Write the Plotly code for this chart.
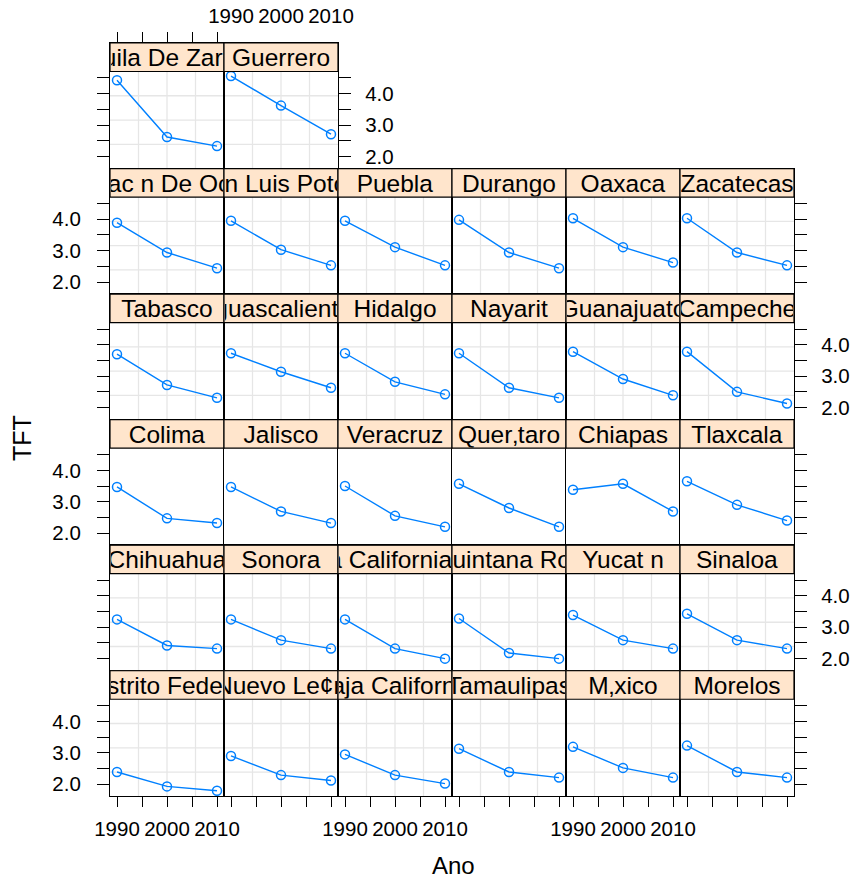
import plotly.graph_objects as go

# ---------------- data ----------------
years = [1990, 2000, 2010]

states = [
    "Coahuila De Zaragoza", "Guerrero",
    "Michoac\u00a0n De Ocampo", "San Luis Potos\u00a1", "Puebla", "Durango", "Oaxaca", "Zacatecas",
    "Tabasco", "Aguascalientes", "Hidalgo", "Nayarit", "Guanajuato", "Campeche",
    "Colima", "Jalisco", "Veracruz", "Quer\u201ataro", "Chiapas", "Tlaxcala",
    "Chihuahua", "Sonora", "Baja California Sur", "Quintana Roo", "Yucat\u00a0n", "Sinaloa",
    "Distrito Federal", "Nuevo Le\u00a2n", "Baja California", "Tamaulipas", "M\u201axico", "Morelos",
]

tft_1990 = [4.43, 4.56,
            3.89, 3.95, 3.95, 3.98, 4.03, 4.03,
            3.70, 3.73, 3.73, 3.73, 3.78, 3.78,
            3.47, 3.47, 3.50, 3.57, 3.38, 3.65,
            3.25, 3.25, 3.25, 3.28, 3.39, 3.43,
            2.39, 2.90, 2.95, 3.13, 3.19, 3.23]
tft_2000 = [2.62, 3.62,
            2.94, 3.03, 3.11, 2.94, 3.11, 2.94,
            2.72, 3.14, 2.82, 2.63, 2.91, 2.50,
            2.47, 2.69, 2.55, 2.80, 3.57, 2.90,
            2.42, 2.59, 2.32, 2.18, 2.59, 2.59,
            1.93, 2.29, 2.29, 2.39, 2.52, 2.39]
tft_2010 = [2.33, 2.71,
            2.44, 2.53, 2.53, 2.44, 2.62, 2.53,
            2.31, 2.63, 2.42, 2.31, 2.39, 2.13,
            2.32, 2.32, 2.20, 2.20, 2.69, 2.40,
            2.32, 2.32, 2.00, 2.00, 2.32, 2.32,
            1.79, 2.12, 2.02, 2.21, 2.21, 2.21]

x_tickvals = [1990, 1995, 2000, 2005, 2010]
x_ticktext = ["1990", "", "2000", "", "2010"]
y_tickvals = [2.0, 2.5, 3.0, 3.5, 4.0, 4.5]
y_ticktext = ["2.0", "", "3.0", "", "4.0", ""]
x_range = [1988.6, 2011.4]
y_range = [1.615, 4.706]   # range of the panel (data) area, below the strip

# ---------------- layout geometry ----------------
W, H = 853, 880
LEFT, PW = 110, 114
TOP, RP, SH = 43, 125.55, 28.5
PH = RP - SH
# the y axis spans strip + panel, so extend its range over the strip height
y_range_full = [y_range[0], y_range[0] + (y_range[1] - y_range[0]) * RP / PH]
slots = [(0, 0), (0, 1)] + [(r, c) for r in range(1, 6) for c in range(6)]

FONT = "Liberation Sans, Arial, Helvetica, sans-serif"
BLUE = "#0080ff"
STRIP = "#ffe5cc"
GRID = "#e6e6e6"
LW = 1.2

fig = go.Figure()
layout = dict(
    width=W, height=H, margin=dict(l=0, r=0, t=0, b=0, autoexpand=False),
    paper_bgcolor="white", plot_bgcolor="white",
    font=dict(family=FONT, color="black"),
    showlegend=False,
)
shapes = []
annotations = []

for k, name in enumerate(states):
    r, c = slots[k]
    n = k + 1
    xa = "x" if n == 1 else f"x{n}"
    ya = "y" if n == 1 else f"y{n}"
    fig.add_trace(go.Scatter(
        x=years, y=[tft_1990[k], tft_2000[k], tft_2010[k]],
        xaxis=xa, yaxis=ya, mode="lines+markers",
        line=dict(color=BLUE, width=1.4),
        marker=dict(symbol="circle-open", size=9, color=BLUE, line=dict(width=1.5, color=BLUE)),
        hoverinfo="skip", showlegend=False, cliponaxis=False,
    ))
    x0 = LEFT + PW * c
    x1 = x0 + PW
    st = TOP + RP * r
    sb = st + SH
    pb = st + RP

    base = dict(showline=True, mirror=True, linecolor="black", linewidth=LW,
                showgrid=False, zeroline=False, fixedrange=True, automargin=False,
                tickfont=dict(size=20.5, family=FONT, color="black"),
                tickcolor="black", tickwidth=1.4)

    xax = dict(base, domain=[x0 / W, x1 / W], anchor=ya, range=x_range,
               tickmode="array", tickvals=x_tickvals, ticktext=x_ticktext)
    if r == 5:
        xax.update(side="bottom", ticks="outside", ticklen=10, showticklabels=(c % 2 == 0),
                   ticklabelstandoff=4)
    elif r == 0:
        if c == 0:
            xax.update(side="top", ticks="outside", ticklen=10, showticklabels=False)
        else:
            xax.update(side="top", ticks="outside", ticklen=10, tickcolor="rgba(0,0,0,0)",
                       showticklabels=True, ticklabelstandoff=1)
    else:
        xax.update(ticks="", showticklabels=False)

    yax = dict(base, domain=[1 - pb / H, 1 - st / H], anchor=xa, range=y_range_full,
               tickmode="array", tickvals=y_tickvals, ticktext=y_ticktext)
    last_col = 1 if r == 0 else 5
    if c == 0:
        yax.update(side="left", ticks="outside", ticklen=12,
                   showticklabels=(r in (1, 3, 5)), ticklabelstandoff=12)
    elif c == last_col:
        yax.update(side="right", ticks="outside", ticklen=12,
                   showticklabels=(r in (0, 2, 4)), ticklabelstandoff=10)
    else:
        yax.update(ticks="", showticklabels=False)

    layout["xaxis" if n == 1 else f"xaxis{n}"] = xax
    layout["yaxis" if n == 1 else f"yaxis{n}"] = yax

    # lattice grid: three reference lines equally spaced in each direction of the panel
    for f in (0.25, 0.5, 0.75):
        shapes.append(dict(type="line", xref=f"{xa} domain", yref="paper",
                           x0=f, x1=f, y0=1 - pb / H, y1=1 - sb / H,
                           line=dict(color=GRID, width=1.3), layer="below"))
        yy = 1 - (sb + f * PH) / H
        shapes.append(dict(type="line", xref=f"{xa} domain", yref="paper",
                           x0=0, x1=1, y0=yy, y1=yy,
                           line=dict(color=GRID, width=1.3), layer="below"))
    # strip
    shapes.append(dict(type="rect", xref="paper", yref="paper",
                       x0=x0 / W, x1=x1 / W, y0=1 - sb / H, y1=1 - st / H,
                       fillcolor=STRIP, line=dict(color="black", width=LW), layer="above"))
    annotations.append(dict(text=name, xref="paper", yref="paper",
                            x=(x0 + x1) / 2 / W, y=1 - (st + sb + 1) / 2 / H,
                            xanchor="center", yanchor="middle", showarrow=False,
                            width=PW - 2, height=SH - 2, align="center", valign="middle",
                            borderpad=0, borderwidth=0,
                            font=dict(size=24.5, family=FONT, color="black")))

annotations.append(dict(text="TFT", xref="paper", yref="paper", x=22 / W, y=1 - 438 / H,
                        xanchor="center", yanchor="middle", showarrow=False, textangle=-90,
                        font=dict(size=25, family=FONT, color="black")))
annotations.append(dict(text="Ano", xref="paper", yref="paper", x=453 / W, y=1 - 865 / H,
                        xanchor="center", yanchor="middle", showarrow=False,
                        font=dict(size=24, family=FONT, color="black")))

layout["shapes"] = shapes
layout["annotations"] = annotations
fig.update_layout(**layout)
fig.write_html("out.html")
